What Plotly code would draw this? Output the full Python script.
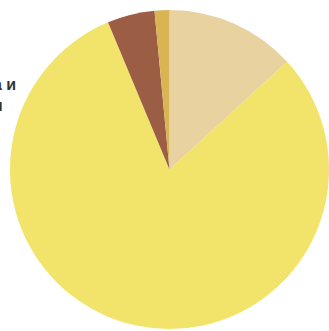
import plotly.graph_objects as go

labels = ["Бежевый", "Жёлтый", "Коричневый", "Золотой"]
values = [13.2, 80.5, 4.8, 1.5]
colors = ["#E8D2A0", "#F2E46B", "#9C5D45", "#D8B552"]
label_lines = ["а и", "н"]

W, H = 329, 331

fig = go.Figure(go.Pie(
    labels=labels,
    values=values,
    sort=False,
    direction="clockwise",
    rotation=0,
    textinfo="none",
    hoverinfo="label+percent",
    marker=dict(colors=colors, line=dict(width=0)),
    domain=dict(x=[10 / W, 1.0], y=[0.0, 1 - 8 / H]),
    showlegend=False,
))

fig.add_annotation(x=18 / W, y=1 - 85 / H, xref="paper", yref="paper",
                   xanchor="right", yanchor="middle", showarrow=False,
                   text="<b>" + label_lines[0] + "</b>",
                   font=dict(family="Liberation Sans, Arial", size=16, color="#333333"))
fig.add_annotation(x=5 / W, y=1 - 105 / H, xref="paper", yref="paper",
                   xanchor="right", yanchor="middle", showarrow=False,
                   text="<b>" + label_lines[1] + "</b>",
                   font=dict(family="Liberation Sans, Arial", size=16, color="#333333"))

fig.update_layout(width=W, height=H, margin=dict(l=0, r=0, t=0, b=0),
                  paper_bgcolor="white", plot_bgcolor="white")

fig.write_html("out.html", config={"displayModeBar": False},
               post_script="document.body.style.margin='0';document.body.style.overflow='hidden';")
